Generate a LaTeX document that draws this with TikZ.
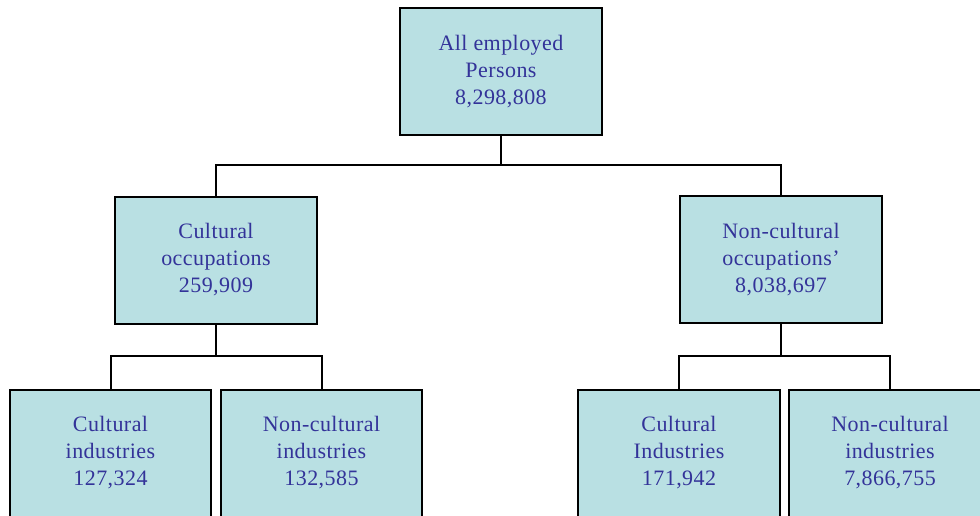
\documentclass[tikz,border=0pt]{standalone}
\usepackage{fontspec}
\setmainfont{Liberation Serif}[LetterSpace=2]
\definecolor{boxfill}{RGB}{185,224,227}
\definecolor{boxtext}{RGB}{51,51,153}
\begin{document}
\begin{tikzpicture}[x=1pt,y=-1pt,
  orgbox/.style={draw=black, line width=2pt, fill=boxfill,
    minimum width=202pt, minimum height=127pt, inner sep=0pt,
    align=center, text=boxtext, font=\fontsize{22}{27}\selectfont},
  link/.style={draw=black, line width=2pt}]
\useasboundingbox (0,0) rectangle (980,515);

% top level
\node[orgbox] (all) at (501,71.5) {All employed\\Persons\\8,298,808};

% occupations
\node[orgbox] (cocc) at (216,260) {Cultural\\occupations\\259,909};
\node[orgbox] (nocc) at (781,259.5) {Non-cultural\\occupations'\\8,038,697};

% industries
\node[orgbox, minimum width=201pt] (cc) at (110.5,453) {Cultural\\industries\\127,324};
\node[orgbox, minimum width=201pt] (cn) at (321.5,453) {Non-cultural\\industries\\132,585};
\node[orgbox] (nc) at (679,453) {Cultural\\Industries\\171,942};
\node[orgbox] (nn) at (890,453) {Non-cultural\\industries\\7,866,755};

% connectors (yshift is in page units, so downward is negative)
\coordinate (j1) at ([yshift=-29pt]all.south);
\draw[link] (all.south) -- (j1);
\draw[link] (cocc.north) |- (nocc.north |- j1) -- (nocc.north);

\coordinate (j2) at ([yshift=-31pt]cocc.south);
\draw[link] (cocc.south) -- (j2);
\draw[link] (cc.north) |- (cn.north |- j2) -- (cn.north);

\coordinate (j3) at ([yshift=-31.5pt]nocc.south);
\draw[link] (nocc.south) -- (j3);
\draw[link] (nc.north) |- (nn.north |- j3) -- (nn.north);
\end{tikzpicture}
\end{document}
